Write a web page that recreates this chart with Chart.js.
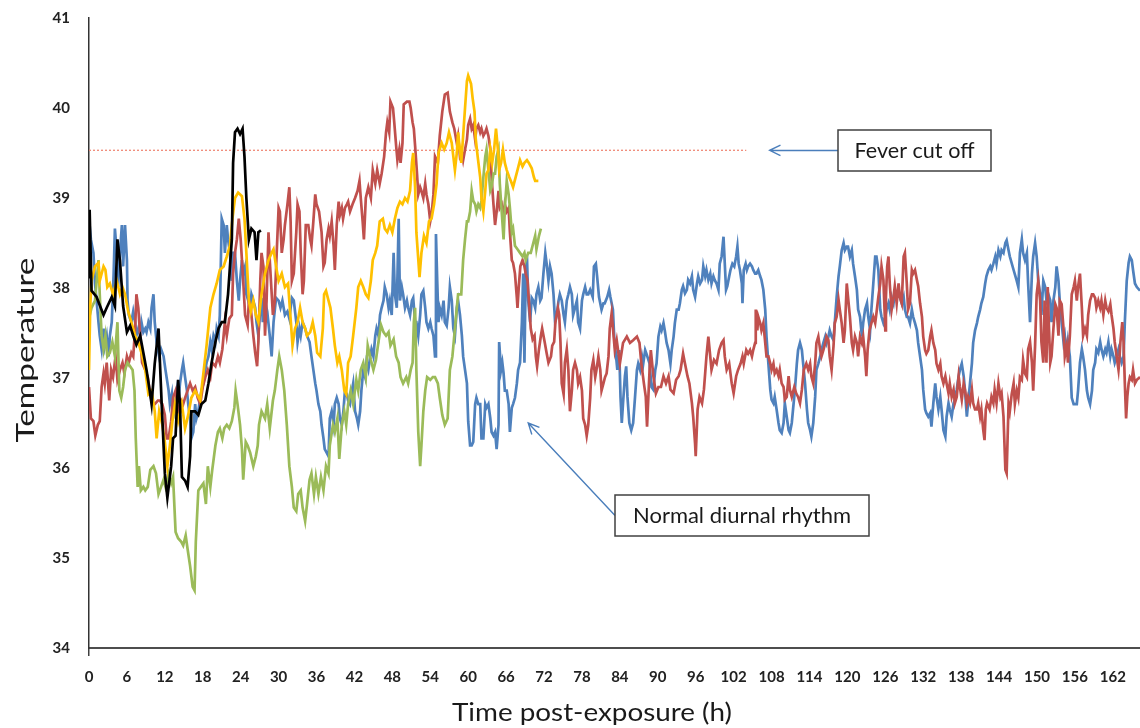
<!DOCTYPE html>
<html>
<head>
<meta charset="utf-8">
<title>Temperature post-exposure</title>
<script src="https://cdn.jsdelivr.net/npm/chart.js@4.4.1/dist/chart.umd.min.js"></script>
<style>
  html, body { margin: 0; padding: 0; background: #ffffff; }
  #wrap { width: 1140px; height: 728px; }
</style>
</head>
<body>
<div id="wrap"><canvas id="temps" width="1140" height="728"></canvas></div>
<script>
// readings: [hours post-exposure, temperature]
const blackData = [[0,38.12],[0.1,38.87],[0.4,37.97],[1.2,37.9],[2.3,37.7],[2.8,37.78],[3.6,37.9],[4.1,37.8],[4.5,38.54],[4.9,38.3],[5.4,37.8],[6.0,37.51],[6.5,37.58],[7.0,37.47],[7.5,37.37],[8.1,37.47],[8.6,37.28],[9.1,37.09],[9.6,36.86],[9.9,36.71],[10.4,37.16],[11.0,37.55],[11.5,36.71],[12.0,35.94],[12.4,35.67],[13.0,36.02],[13.3,36.33],[13.7,36.36],[14.1,36.98],[14.4,36.71],[14.7,35.9],[15.2,35.86],[15.6,35.79],[16.0,36.13],[16.2,36.63],[16.8,36.63],[17.3,36.59],[17.8,36.71],[18.4,36.75],[18.9,36.94],[19.4,37.17],[20.0,37.4],[20.5,37.55],[21.0,37.62],[21.5,37.62],[22.0,37.93],[22.6,38.54],[22.8,39.39],[23.1,39.73],[23.5,39.77],[23.9,39.71],[24.3,39.77],[24.6,39.46],[24.9,39.0],[25.3,38.54],[25.7,38.66],[26.2,38.62],[26.5,38.31],[26.8,38.62],[27.2,38.64]];

const yellowData = [[0,37.09],[0.2,37.8],[0.4,38.08],[0.95,38.24],[1.5,38.28],[1.7,38.08],[2.3,38.24],[2.6,38.2],[2.9,38.01],[3.3,38.05],[3.8,37.93],[4.4,38.08],[4.9,37.93],[5.3,38.01],[5.7,37.93],[6.2,37.74],[6.7,37.62],[7.3,37.47],[7.8,37.4],[8.3,37.28],[8.9,37.09],[9.4,36.82],[9.9,36.86],[10.4,36.63],[10.7,36.33],[11.1,36.63],[11.6,36.48],[12.0,36.29],[12.4,36.02],[12.8,36.25],[13.2,36.52],[13.6,36.71],[14.1,36.52],[14.7,36.71],[15.2,36.44],[15.7,36.59],[16.2,36.78],[16.8,36.86],[17.6,36.75],[18.1,37.05],[18.6,37.36],[19.2,37.78],[19.7,37.93],[20.2,38.05],[20.7,38.2],[21.3,38.24],[21.8,38.35],[22.3,38.47],[22.7,38.77],[23.1,39.0],[23.6,39.06],[24.2,39.02],[24.6,38.77],[24.9,38.39],[25.3,37.86],[25.6,37.74],[26.0,37.86],[26.4,37.7],[26.8,37.62],[27.3,37.93],[27.85,38.16],[28.4,38.31],[28.9,38.39],[29.2,38.43],[29.6,38.24],[30.0,38.08],[30.5,38.16],[31.0,38.01],[31.5,38.05],[31.9,37.66],[32.2,37.36],[32.6,37.55],[33.0,37.62],[33.4,37.78],[33.8,37.62],[34.2,37.55],[34.5,37.47],[35.0,37.51],[35.4,37.62],[35.8,37.47],[36.1,37.28],[36.6,37.24],[37.0,37.55],[37.2,37.93],[37.5,37.97],[37.9,37.86],[38.2,37.78],[38.6,37.55],[38.9,37.36],[39.3,37.17],[39.6,37.24],[40.0,37.09],[40.4,36.86],[40.7,36.82],[41.0,37.17],[41.4,37.24],[41.8,37.47],[42.3,37.78],[42.6,38.01],[43.0,38.08],[43.4,38.01],[43.8,37.93],[44.2,37.89],[44.6,38.08],[44.9,38.31],[45.3,38.39],[45.6,38.47],[46.0,38.74],[46.5,38.77],[46.8,38.66],[47.2,38.62],[47.6,38.7],[48.0,38.62],[48.4,38.77],[48.8,38.89],[49.2,38.96],[49.6,38.93],[50.0,39.0],[50.4,38.96],[50.8,39.08],[51.1,39.39],[51.3,39.5],[51.6,39.12],[51.8,38.62],[52.3,38.12],[52.6,38.39],[53.0,38.58],[53.4,38.5],[53.8,38.74],[54.2,38.77],[54.6,38.93],[55.0,39.16],[55.3,39.5],[55.8,39.61],[56.2,39.54],[56.6,39.61],[56.96,39.73],[57.4,39.61],[57.65,39.46],[57.9,39.31],[58.2,39.5],[58.4,39.73],[58.9,39.39],[59.2,39.69],[59.5,40.0],[59.8,40.3],[60.0,40.36],[60.45,40.27],[60.7,40.11],[61.0,39.96],[61.2,39.65],[61.5,39.46],[61.9,39.23],[62.1,39.0],[62.4,38.85],[62.7,39.08],[62.9,39.27],[63.2,39.31],[63.5,39.54],[63.8,39.39],[64.1,39.54],[64.4,39.77],[64.7,39.54],[64.9,39.31],[65.2,39.39],[65.5,39.54],[65.8,39.39],[66.1,39.31],[66.5,39.23],[66.8,39.18],[67.1,39.12],[67.5,39.23],[67.8,39.31],[68.2,39.42],[68.6,39.35],[68.9,39.39],[69.3,39.42],[69.6,39.39],[70.05,39.33],[70.4,39.23],[70.6,39.19],[71.1,39.19]];

const greenData = [[0,37.66],[0.4,37.78],[0.95,37.86],[1.5,38.31],[1.7,37.93],[2.0,37.47],[2.3,37.32],[2.6,37.47],[2.9,37.24],[3.3,37.28],[3.7,37.4],[4.1,37.24],[4.5,37.62],[4.8,36.86],[5.1,36.78],[5.4,36.9],[5.7,37.09],[6.1,37.17],[6.5,37.13],[6.9,37.09],[7.2,36.86],[7.4,36.33],[7.7,35.79],[7.9,36.02],[8.2,35.75],[8.6,35.79],[8.9,35.75],[9.3,35.79],[9.7,35.98],[10.2,36.02],[10.6,35.94],[11.0,35.71],[11.4,35.79],[11.8,35.87],[12.1,35.79],[12.6,35.94],[13.0,35.83],[13.3,35.9],[13.7,35.29],[14.1,35.22],[14.6,35.18],[14.9,35.14],[15.3,35.25],[15.6,35.1],[16.0,34.91],[16.4,34.68],[16.7,34.64],[16.9,35.18],[17.3,35.75],[17.7,35.79],[18.1,35.83],[18.5,35.6],[18.8,36.02],[19.2,35.79],[19.5,35.98],[20.0,36.25],[20.4,36.4],[20.7,36.44],[21.1,36.33],[21.4,36.44],[21.8,36.48],[22.2,36.44],[22.6,36.52],[23.0,36.67],[23.2,36.86],[23.5,36.71],[23.9,36.48],[24.2,36.21],[24.4,35.87],[24.8,36.29],[25.1,36.25],[25.5,36.17],[26.0,36.02],[26.4,36.13],[26.7,36.25],[26.9,36.48],[27.3,36.63],[27.85,36.55],[28.2,36.71],[28.6,36.44],[29.1,36.75],[29.4,36.86],[29.8,37.09],[30.1,37.24],[30.5,37.09],[30.9,36.86],[31.3,36.48],[31.7,36.02],[32.1,35.79],[32.4,35.56],[32.8,35.52],[33.1,35.71],[33.5,35.75],[33.8,35.56],[34.2,35.41],[34.5,35.6],[34.9,35.87],[35.2,35.94],[35.6,35.71],[35.9,35.9],[36.3,35.71],[36.7,35.9],[37.1,35.75],[37.5,36.02],[37.9,35.94],[38.1,36.25],[38.6,36.48],[38.9,36.4],[39.3,36.55],[39.6,36.1],[40.0,36.48],[40.4,36.63],[40.7,36.48],[41.0,36.71],[41.4,36.86],[41.8,36.71],[42.3,36.98],[42.6,36.86],[43.0,37.09],[43.4,37.17],[43.8,37.01],[44.1,37.36],[44.6,37.2],[45.0,37.09],[45.4,37.2],[45.8,37.4],[46.2,37.59],[46.6,37.51],[47.0,37.47],[47.4,37.51],[47.7,37.36],[48.2,37.43],[48.6,37.24],[49.0,37.17],[49.3,37.01],[49.7,36.94],[50.2,37.01],[50.5,36.94],[50.9,37.09],[51.2,37.17],[51.4,37.62],[51.6,37.78],[51.8,37.09],[52.1,36.4],[52.4,36.02],[52.6,36.25],[52.9,36.63],[53.2,36.86],[53.5,37.01],[54.0,36.98],[54.4,37.01],[54.75,37.01],[55.2,36.94],[55.5,36.78],[55.9,36.59],[56.3,36.48],[56.75,36.55],[57.1,37.09],[57.5,37.24],[57.8,37.47],[58.2,37.78],[58.4,37.93],[58.9,37.93],[59.2,38.31],[59.5,38.54],[59.8,38.74],[60.0,38.74],[60.3,38.85],[60.55,39.08],[60.8,38.97],[61.1,38.93],[61.3,38.85],[61.6,38.93],[61.9,38.89],[62.1,38.97],[62.4,39.23],[62.7,39.46],[62.9,39.54],[63.2,39.31],[63.5,39.08],[63.7,39.12],[64.0,39.27],[64.25,39.27],[64.5,39.46],[64.8,39.54],[65.0,39.16],[65.3,38.85],[65.6,38.54],[65.8,38.89],[66.1,39.19],[66.4,39.04],[66.6,38.89],[66.9,38.62],[67.1,38.66],[67.4,38.47],[67.8,38.43],[68.2,38.39],[68.6,38.35],[68.9,38.39],[69.1,38.31],[69.5,38.39],[69.9,38.39],[70.3,38.5],[70.6,38.58],[70.8,38.43],[71.2,38.58],[71.5,38.66]];

const redData = [[0,36.9],[0.3,36.55],[0.7,36.52],[1.0,36.36],[1.4,36.48],[1.7,36.52],[2.0,36.9],[2.3,37.05],[2.5,36.94],[2.8,37.17],[3.2,36.75],[3.5,37.09],[3.8,37.01],[4.2,37.24],[4.5,36.98],[4.9,37.09],[5.3,37.17],[5.6,37.05],[6.0,37.24],[6.3,37.17],[6.7,37.28],[7.0,37.24],[7.3,37.55],[7.5,37.93],[7.8,37.78],[8.1,37.47],[8.4,37.17],[8.9,37.09],[9.3,37.01],[9.6,36.86],[10.0,36.71],[10.4,36.71],[10.9,36.75],[11.2,36.75],[11.6,36.71],[12.0,36.59],[12.3,36.33],[12.6,36.33],[13.0,36.52],[13.3,36.78],[13.7,36.86],[14.1,36.63],[14.6,36.75],[14.9,36.71],[15.2,36.78],[15.6,36.86],[16.0,36.94],[16.4,36.86],[16.8,36.9],[17.2,36.78],[17.6,36.71],[18.0,36.9],[18.4,37.01],[18.8,37.09],[19.2,37.01],[19.5,37.17],[20.0,37.13],[20.4,37.24],[20.7,37.17],[21.1,37.32],[21.5,37.62],[21.8,37.47],[22.2,37.66],[22.6,37.7],[22.8,38.16],[23.1,38.39],[23.4,38.54],[23.7,38.77],[24.0,38.54],[24.4,38.08],[24.7,37.7],[25.1,37.59],[25.3,37.86],[25.6,37.78],[26.0,37.47],[26.3,37.28],[26.6,37.13],[26.8,37.4],[27.1,38.08],[27.3,38.39],[27.6,38.24],[27.85,37.47],[28.1,37.86],[28.4,38.62],[28.6,38.31],[29.1,37.7],[29.4,37.86],[29.7,38.39],[30.0,38.89],[30.2,38.85],[30.5,38.39],[30.8,38.54],[31.0,38.7],[31.4,38.93],[31.7,39.12],[31.9,38.74],[32.1,38.08],[32.4,38.16],[32.8,38.62],[33.0,38.93],[33.3,38.85],[33.5,38.39],[33.8,37.93],[34.0,38.08],[34.3,38.7],[34.7,38.7],[35.0,38.54],[35.2,38.47],[35.5,38.74],[35.8,39.04],[36.0,38.93],[36.4,38.85],[36.8,38.62],[37.1,38.24],[37.3,38.28],[37.6,38.54],[37.9,38.66],[38.1,38.58],[38.4,38.74],[38.7,38.47],[38.9,38.2],[39.2,38.7],[39.5,38.96],[39.7,38.81],[40.0,38.89],[40.2,38.77],[40.5,38.89],[40.8,38.93],[41.0,38.96],[41.3,38.85],[41.7,38.93],[42.1,39.0],[42.5,39.08],[42.8,39.19],[43.0,39.0],[43.3,38.74],[43.5,38.54],[43.8,39.0],[44.2,39.12],[44.6,39.0],[44.9,39.31],[45.3,39.16],[45.6,39.31],[46.0,39.16],[46.3,39.27],[46.7,39.46],[47.0,39.73],[47.2,39.84],[47.5,39.73],[47.7,40.07],[48.1,40.0],[48.3,39.84],[48.6,39.58],[48.8,39.42],[49.1,39.54],[49.3,39.39],[49.6,39.61],[49.8,40.04],[50.3,40.07],[50.7,40.07],[50.9,40.0],[51.2,39.84],[51.4,39.77],[51.6,39.58],[51.9,39.27],[52.1,39.04],[52.4,39.12],[52.6,39.08],[52.9,39.0],[53.2,39.16],[53.4,39.04],[53.7,38.93],[54.0,38.74],[54.2,38.81],[54.5,39.04],[54.75,39.46],[55.2,39.39],[55.5,39.69],[55.9,39.96],[56.3,40.15],[56.75,40.17],[57.1,39.96],[57.5,39.84],[57.8,39.77],[58.2,39.61],[58.4,39.69],[58.7,39.46],[59.0,39.5],[59.2,39.42],[59.5,39.54],[59.8,39.65],[60.0,39.81],[60.3,39.88],[60.55,39.77],[60.8,39.81],[61.1,39.65],[61.3,39.77],[61.6,39.81],[61.9,39.73],[62.1,39.77],[62.4,39.69],[62.7,39.73],[62.9,39.77],[63.2,39.69],[63.5,39.54],[63.7,39.23],[64.0,38.93],[64.25,38.7],[64.5,38.85],[64.8,39.08],[65.0,38.89],[65.3,38.93],[65.6,38.77],[65.8,38.93],[66.1,38.85],[66.4,38.89],[66.6,38.62],[66.9,38.31],[67.1,38.28],[67.4,38.16],[67.7,37.89],[67.8,37.78],[68.0,38.01],[68.25,38.24],[68.6,38.31],[68.9,38.24],[69.1,38.16],[69.4,38.08],[69.6,37.86],[69.9,37.55],[70.2,37.43],[70.5,37.47],[70.7,37.24],[70.9,37.13],[71.2,37.32],[71.5,37.47],[71.7,37.55],[72.1,37.4],[72.4,37.28],[72.7,37.17],[73.1,37.24],[73.3,37.36],[73.6,37.4],[73.8,37.62],[74.2,37.78],[74.4,37.7],[74.6,37.4],[74.8,36.94],[75.1,36.82],[75.3,37.17],[75.6,37.32],[75.85,37.09],[76.1,36.63],[76.4,36.86],[76.6,37.09],[76.9,37.17],[77.2,37.09],[77.4,36.94],[77.7,37.01],[78.0,36.86],[78.2,36.55],[78.5,36.48],[78.75,36.36],[79.0,36.48],[79.3,36.78],[79.5,37.09],[79.8,37.2],[80.1,37.01],[80.3,37.09],[80.6,37.24],[80.9,37.09],[81.1,36.86],[81.4,36.94],[81.65,37.01],[81.9,37.05],[82.2,37.24],[82.4,37.55],[82.7,37.72],[83.2,37.31],[83.5,37.42],[84.0,37.16],[84.5,37.39],[85.1,37.46],[85.6,37.39],[86.1,37.42],[86.7,37.46],[87.1,37.39],[87.4,37.16],[87.8,36.94],[88.1,36.79],[88.3,36.46],[88.7,37.09],[88.9,37.31],[89.3,37.02],[89.7,36.83],[90.1,36.9],[90.5,36.9],[90.9,37.02],[91.3,36.94],[91.7,37.02],[92.0,36.87],[92.5,36.83],[92.9,36.98],[93.3,37.02],[93.6,37.09],[94.0,37.27],[94.3,37.16],[94.7,37.02],[95.0,36.94],[95.4,36.72],[95.6,36.57],[95.9,36.27],[96.0,36.13],[96.3,36.65],[96.6,36.79],[97.0,36.72],[97.3,36.87],[97.7,37.24],[98.0,37.46],[98.3,37.24],[98.5,37.09],[98.9,37.2],[99.3,37.16],[99.7,37.31],[100.1,37.39],[100.4,37.42],[100.6,37.24],[100.9,37.09],[101.3,37.16],[101.7,36.94],[102.0,36.83],[102.4,37.02],[102.7,37.09],[103.1,37.16],[103.4,37.24],[103.6,37.16],[104.0,37.31],[104.3,37.27],[104.6,37.31],[104.9,37.24],[105.1,37.31],[105.4,37.39],[105.5,37.76],[105.75,37.53],[105.9,37.68],[106.2,37.61],[106.4,37.53],[106.7,37.61],[107.0,37.39],[107.2,37.24],[107.5,37.24],[107.8,37.16],[108.0,37.09],[108.3,37.16],[108.5,37.05],[108.8,37.09],[109.1,37.02],[109.3,37.09],[109.6,36.94],[109.9,36.9],[110.1,36.76],[110.4,36.79],[110.7,37.02],[110.9,36.87],[111.2,36.79],[111.6,36.9],[111.9,36.83],[112.2,36.79],[112.5,36.72],[112.8,36.87],[113.1,37.09],[113.5,37.16],[113.8,37.09],[114.1,37.16],[114.3,37.02],[114.6,36.94],[114.9,37.16],[115.1,37.39],[115.4,37.46],[115.7,37.31],[115.9,37.24],[116.2,37.31],[116.5,37.39],[116.7,37.46],[117.0,37.42],[117.2,37.24],[117.5,37.09],[117.8,37.35],[118.0,37.61],[118.3,37.68],[118.6,37.87],[118.8,37.76],[119.1,37.61],[119.4,37.39],[119.6,37.53],[119.9,38.05],[120.1,37.9],[120.4,37.68],[120.7,37.39],[120.9,37.31],[121.2,37.46],[121.5,37.39],[121.7,37.24],[122.0,37.46],[122.3,37.39],[122.5,37.46],[122.8,37.24],[123.0,37.02],[123.2,37.31],[123.5,37.53],[123.8,37.61],[124.1,37.68],[124.4,37.61],[124.6,37.72],[124.9,37.9],[125.2,38.05],[125.4,38.24],[125.7,38.09],[126.0,37.53],[126.1,37.9],[126.3,38.24],[126.5,38.35],[126.7,38.05],[127.0,37.76],[127.3,37.9],[127.5,38.02],[127.8,37.83],[128.1,38.05],[128.3,37.9],[128.6,37.83],[128.9,38.35],[129.1,38.39],[129.4,38.05],[129.6,37.76],[129.9,37.83],[130.2,38.2],[130.4,38.16],[130.7,38.2],[131.0,38.09],[131.2,38.02],[131.5,37.83],[131.8,37.68],[132.0,37.46],[132.3,37.31],[132.5,37.27],[132.8,37.31],[133.1,37.46],[133.3,37.53],[133.6,37.39],[133.9,37.31],[134.1,37.16],[134.4,37.09],[134.7,37.16],[134.9,37.02],[135.2,36.94],[135.5,37.02],[135.7,36.94],[136.0,36.83],[136.2,36.94],[136.5,36.79],[136.8,36.87],[137.0,36.72],[137.3,36.79],[137.6,37.02],[137.8,36.9],[138.1,36.76],[138.4,36.94],[138.6,36.87],[138.9,36.72],[139.1,36.79],[139.4,36.72],[139.7,36.87],[139.9,36.72],[140.2,36.65],[140.5,36.65],[140.7,36.72],[141.0,36.57],[141.2,36.65],[141.5,36.42],[141.7,36.31],[141.9,36.65],[142.1,36.72],[142.5,36.65],[142.8,36.79],[143.1,36.72],[143.3,36.87],[143.6,36.72],[143.9,36.94],[144.2,36.79],[144.4,36.83],[144.7,36.57],[145.0,35.98],[145.2,35.94],[145.5,36.71],[145.7,36.63],[146.0,36.82],[146.3,36.94],[146.5,36.71],[146.8,36.86],[147.05,36.78],[147.3,37.01],[147.6,36.98],[147.8,37.2],[148.1,37.05],[148.4,37.01],[148.6,37.32],[148.9,37.4],[149.2,37.17],[149.4,36.86],[149.7,37.36],[149.95,37.93],[150.2,38.08],[150.5,37.86],[150.7,37.4],[151.0,37.17],[151.2,37.86],[151.3,37.47],[151.5,37.17],[151.7,38.01],[151.9,37.55],[152.1,37.17],[152.3,37.24],[152.6,37.55],[152.9,37.82],[153.1,37.78],[153.4,37.47],[153.6,37.86],[153.9,37.82],[154.2,37.55],[154.4,37.24],[154.7,37.36],[154.9,37.17],[155.2,37.47],[155.5,37.93],[155.8,38.01],[156.0,38.08],[156.3,37.86],[156.5,38.01],[156.8,38.16],[157.1,37.78],[157.3,37.47],[157.6,37.55],[157.9,37.47],[158.1,37.7],[158.4,37.86],[158.7,37.93],[158.9,37.93],[159.2,37.89],[159.4,37.78],[159.7,37.86],[160.0,37.78],[160.2,37.86],[160.5,37.7],[160.8,37.86],[161.0,37.78],[161.3,37.74],[161.6,37.82],[161.8,37.7],[162.1,37.55],[162.3,37.4],[162.6,37.24],[162.9,37.09],[163.0,37.17],[163.2,37.4],[163.5,37.62],[163.7,37.4],[163.9,36.94],[164.1,36.55],[164.3,36.8],[164.5,36.94],[164.7,37.01],[165.0,36.98],[165.2,37.09],[165.5,36.94],[165.8,36.98],[166.3,37.01]];

const blueData = [[0,38.77],[0.3,38.54],[0.7,38.39],[0.95,38.05],[1.2,37.86],[1.5,37.62],[1.7,37.47],[2.0,37.32],[2.3,37.55],[2.5,37.36],[2.8,37.47],[3.1,37.24],[3.3,37.47],[3.6,37.62],[3.9,38.16],[4.1,38.66],[4.4,38.39],[4.6,38.01],[4.9,38.39],[5.2,38.7],[5.4,38.24],[5.7,38.7],[6.0,38.31],[6.1,37.86],[6.3,37.7],[6.7,37.62],[7.0,37.74],[7.3,37.62],[7.5,37.47],[7.8,37.55],[8.1,37.47],[8.3,37.62],[8.6,37.51],[8.9,37.55],[9.1,37.51],[9.4,37.62],[9.7,37.55],[9.9,37.78],[10.2,37.93],[10.4,37.62],[10.7,37.4],[11.1,37.24],[11.4,37.32],[11.8,37.24],[12.1,37.09],[12.6,36.86],[12.8,36.71],[13.1,36.82],[13.3,36.55],[13.6,36.71],[13.9,36.86],[14.1,36.71],[14.4,36.94],[14.7,37.09],[14.9,37.17],[15.2,37.01],[15.5,36.86],[15.7,36.71],[16.0,36.55],[16.2,36.33],[16.5,36.4],[16.8,36.71],[17.0,36.55],[17.3,36.63],[17.6,36.78],[17.8,36.86],[18.1,36.94],[18.4,37.09],[18.6,37.17],[18.9,37.24],[19.2,37.4],[19.4,37.32],[19.7,37.47],[20.0,37.4],[20.2,37.55],[20.5,37.47],[20.7,37.7],[21.0,38.77],[21.3,38.7],[21.5,38.39],[21.8,38.7],[22.0,38.54],[22.3,38.39],[22.6,38.08],[22.8,38.39],[23.1,38.39],[23.4,38.08],[23.7,37.86],[23.9,38.08],[24.2,38.31],[24.4,38.16],[24.7,38.24],[24.9,37.93],[25.2,37.86],[25.5,37.78],[25.7,37.93],[26.0,37.86],[26.3,37.78],[26.5,37.62],[26.8,37.47],[27.1,37.78],[27.3,37.89],[27.5,37.62],[27.85,37.86],[28.2,37.74],[28.6,37.47],[28.9,37.24],[29.2,37.62],[29.6,37.89],[30.0,37.86],[30.3,37.78],[30.6,37.86],[31.0,37.7],[31.4,37.74],[31.7,37.66],[32.1,37.89],[32.4,37.86],[32.8,37.62],[33.0,37.4],[33.3,37.55],[33.5,37.47],[33.8,37.62],[34.2,37.55],[34.5,37.47],[34.9,37.4],[35.2,37.24],[35.5,37.09],[35.8,36.94],[36.0,36.86],[36.3,36.71],[36.6,36.63],[36.8,36.48],[37.1,36.33],[37.3,36.21],[37.6,36.17],[37.9,36.13],[38.1,36.55],[38.4,36.63],[38.7,36.48],[38.9,36.71],[39.2,36.78],[39.5,36.71],[39.7,36.55],[40.0,36.48],[40.25,36.63],[40.5,36.86],[40.8,36.82],[41.0,36.75],[41.3,36.71],[41.6,36.86],[41.8,36.94],[42.1,36.63],[42.4,36.55],[42.6,36.48],[42.9,36.63],[43.1,36.86],[43.4,37.09],[43.7,37.01],[43.9,37.17],[44.2,37.09],[44.5,37.24],[44.7,37.32],[45.0,37.24],[45.3,37.47],[45.5,37.55],[45.8,37.47],[46.05,37.7],[46.3,37.78],[46.6,37.86],[46.8,38.01],[47.1,37.93],[47.4,37.78],[47.6,37.86],[47.9,37.7],[48.2,38.39],[48.4,37.93],[48.7,37.78],[49.0,38.77],[49.2,37.86],[49.5,38.01],[49.7,37.93],[50.0,37.78],[50.3,37.86],[50.5,37.78],[50.8,37.7],[51.1,37.86],[51.3,37.89],[51.6,37.62],[51.8,37.62],[52.1,37.47],[52.4,37.7],[52.6,37.93],[52.9,37.97],[53.2,37.78],[53.4,37.62],[53.7,37.55],[54.0,37.62],[54.2,37.55],[54.5,37.47],[54.75,37.24],[54.9,38.6],[55.1,38.08],[55.3,37.62],[55.5,37.78],[55.8,37.7],[56.1,37.86],[56.3,37.62],[56.6,37.58],[56.9,37.78],[57.1,38.01],[57.4,37.86],[57.65,37.55],[57.9,37.47],[58.2,37.78],[58.4,37.86],[58.7,37.7],[59.0,37.47],[59.2,37.24],[59.5,37.09],[59.8,36.94],[60.0,36.52],[60.3,36.25],[60.55,36.25],[60.8,36.29],[61.1,36.71],[61.3,36.78],[61.6,36.71],[61.9,36.71],[62.1,36.33],[62.4,36.33],[62.7,36.71],[62.9,36.67],[63.2,36.71],[63.5,36.55],[63.7,36.4],[64.0,36.36],[64.25,36.4],[64.5,36.21],[64.8,36.48],[64.9,37.4],[65.2,37.09],[65.4,37.17],[65.6,37.05],[65.8,36.86],[66.1,36.86],[66.4,36.71],[66.6,36.4],[66.9,36.67],[67.1,36.71],[67.4,36.78],[67.7,36.94],[67.9,37.09],[68.2,37.17],[68.5,37.62],[68.7,38.16],[68.9,37.17],[69.1,38.16],[69.3,38.35],[69.5,37.86],[69.8,37.62],[70.05,37.89],[70.3,37.86],[70.6,37.78],[70.8,37.93],[71.1,38.01],[71.4,37.86],[71.6,37.89],[71.9,38.16],[72.2,38.39],[72.4,38.28],[72.7,38.08],[72.95,38.24],[73.2,38.16],[73.5,37.93],[73.75,37.62],[74.0,37.7],[74.3,37.86],[74.5,37.93],[74.8,37.86],[75.1,37.7],[75.3,37.62],[75.6,37.86],[75.85,37.93],[76.1,38.01],[76.4,37.93],[76.6,37.7],[76.9,37.78],[77.2,37.86],[77.4,37.62],[77.7,37.55],[78.0,37.86],[78.2,37.93],[78.5,38.01],[78.75,37.93],[79.0,37.93],[79.3,37.98],[79.7,37.9],[79.9,38.24],[80.2,38.27],[80.4,38.13],[80.7,37.9],[81.1,37.76],[81.4,37.83],[81.6,37.83],[82.0,37.9],[82.3,37.98],[82.5,37.9],[82.9,37.76],[83.1,37.46],[83.4,37.24],[83.6,37.09],[83.9,37.31],[84.1,36.79],[84.3,36.5],[84.5,36.72],[84.8,37.02],[85.0,37.13],[85.2,36.79],[85.5,36.5],[85.8,36.42],[86.1,36.5],[86.4,36.79],[86.7,37.09],[86.9,37.16],[87.2,37.09],[87.5,37.24],[87.7,37.16],[88.0,37.31],[88.2,37.27],[88.7,37.16],[89.0,36.9],[89.3,36.87],[89.6,37.09],[89.8,37.16],[90.1,37.46],[90.4,37.57],[90.6,37.53],[90.9,37.61],[91.1,37.53],[91.4,37.39],[91.7,37.31],[92.0,37.16],[92.2,37.31],[92.5,37.46],[92.7,37.61],[93.0,37.76],[93.3,37.76],[93.5,37.83],[93.8,37.98],[94.0,38.02],[94.3,37.94],[94.6,37.98],[94.8,38.09],[95.1,38.05],[95.4,38.13],[95.6,37.98],[95.9,37.9],[96.2,38.05],[96.4,38.13],[96.7,38.05],[97.0,38.09],[97.2,38.24],[97.5,38.13],[97.7,38.2],[98.0,38.09],[98.3,38.16],[98.5,38.05],[98.8,38.13],[99.0,38.09],[99.3,38.05],[99.6,37.98],[99.8,38.27],[100.1,38.35],[100.4,38.57],[100.6,38.27],[100.8,37.98],[101.0,38.02],[101.3,38.13],[101.5,38.2],[101.8,38.27],[102.1,38.24],[102.4,38.35],[102.6,38.46],[102.8,38.27],[103.0,38.2],[103.3,38.05],[103.4,37.83],[103.6,38.2],[103.9,38.27],[104.1,38.2],[104.3,38.24],[104.6,38.27],[104.9,38.24],[105.1,38.2],[105.4,38.16],[105.6,38.16],[105.9,38.2],[106.2,38.13],[106.4,38.09],[106.7,37.98],[107.0,37.76],[107.2,37.46],[107.5,37.16],[107.8,36.87],[108.0,36.76],[108.3,36.72],[108.5,36.79],[108.8,36.65],[109.1,36.5],[109.3,36.42],[109.6,36.39],[109.9,36.5],[110.1,36.72],[110.4,36.57],[110.7,36.42],[110.9,36.39],[111.2,36.5],[111.4,36.65],[111.7,36.87],[112.0,37.16],[112.2,37.31],[112.5,37.39],[112.8,37.31],[113.0,37.16],[113.3,36.94],[113.6,36.65],[113.8,36.5],[114.1,36.42],[114.3,36.35],[114.6,36.5],[114.9,36.79],[115.1,37.09],[115.4,37.16],[115.7,37.24],[115.9,37.31],[116.2,37.39],[116.5,37.46],[116.7,37.39],[117.0,37.46],[117.2,37.53],[117.5,37.46],[117.8,37.42],[118.0,37.61],[118.3,37.9],[118.6,38.13],[118.8,38.24],[119.1,38.42],[119.4,38.5],[119.6,38.42],[119.9,38.46],[120.1,38.46],[120.4,38.35],[120.7,38.42],[120.9,38.27],[121.2,38.13],[121.5,37.98],[121.7,37.76],[122.0,37.68],[122.3,37.46],[122.5,37.61],[122.8,37.76],[123.1,37.83],[123.3,37.68],[123.6,37.53],[123.8,37.76],[124.1,38.05],[124.4,38.35],[124.6,38.35],[124.9,38.2],[125.2,37.76],[125.4,37.68],[125.7,37.61],[126.0,37.68],[126.2,37.76],[126.5,37.83],[126.7,37.76],[127.0,37.9],[127.3,37.83],[127.5,37.94],[127.8,37.9],[128.1,37.98],[128.3,37.9],[128.6,37.83],[128.9,37.9],[129.1,37.76],[129.4,37.68],[129.6,37.68],[129.9,37.61],[130.2,37.76],[130.4,37.68],[130.7,37.61],[131.0,37.53],[131.2,37.39],[131.5,37.24],[131.8,37.09],[132.0,36.87],[132.3,36.65],[132.5,36.61],[132.8,36.57],[133.1,36.61],[133.3,36.46],[133.6,36.72],[133.9,36.94],[134.1,36.79],[134.4,36.65],[134.7,36.79],[134.9,36.65],[135.2,36.42],[135.5,36.35],[135.7,36.57],[136.0,36.72],[136.2,36.65],[136.5,36.57],[136.8,36.72],[137.0,36.76],[137.3,36.87],[137.6,37.02],[137.8,37.09],[138.1,37.16],[138.4,37.02],[138.6,36.87],[138.9,36.57],[139.1,36.72],[139.4,36.94],[139.7,37.16],[139.9,37.39],[140.2,37.53],[140.5,37.61],[140.7,37.68],[141.0,37.76],[141.2,37.83],[141.5,37.9],[141.8,38.05],[142.0,38.13],[142.3,38.2],[142.6,38.24],[142.8,38.2],[143.1,38.27],[143.4,38.35],[143.6,38.27],[143.9,38.42],[144.2,38.35],[144.4,38.42],[144.7,38.39],[145.0,38.5],[145.2,38.53],[145.5,38.42],[145.7,38.35],[146.3,38.2],[146.8,38.08],[147.05,38.01],[147.3,38.39],[147.6,38.54],[147.8,38.39],[148.1,38.31],[148.4,38.39],[148.6,38.05],[148.9,37.62],[149.2,38.16],[149.4,38.35],[149.7,38.5],[149.95,38.35],[150.2,38.08],[150.5,37.93],[150.7,37.7],[151.0,38.08],[151.3,38.01],[151.5,37.86],[151.8,37.93],[152.1,37.86],[152.3,37.62],[152.6,37.86],[152.9,38.01],[153.1,38.24],[153.4,38.08],[153.6,37.86],[153.9,37.62],[154.2,37.4],[154.4,37.47],[154.7,37.24],[154.9,37.4],[155.2,37.24],[155.5,36.78],[155.8,36.71],[156.0,36.71],[156.3,36.71],[156.5,36.86],[156.8,37.17],[157.1,37.32],[157.3,37.24],[157.6,37.09],[157.9,36.86],[158.1,36.78],[158.4,36.71],[158.7,36.86],[158.9,37.09],[159.2,37.17],[159.4,37.32],[159.7,37.28],[160.0,37.4],[160.2,37.32],[160.5,37.24],[160.8,37.32],[161.0,37.28],[161.3,37.4],[161.6,37.24],[161.8,37.32],[162.1,37.24],[162.3,37.17],[162.6,37.24],[162.9,37.32],[163.1,37.24],[163.4,37.17],[163.7,37.24],[163.9,37.62],[164.2,38.08],[164.5,38.28],[164.7,38.35],[165.0,38.31],[165.2,38.2],[165.5,38.05],[165.8,38.01],[166.3,37.97]];

// fever threshold and how far the dotted line runs
const feverCutOff = 39.53;
const feverLine = [0, 104];

// axis ranges and the hour labels along the bottom
const xRange = [0, 166.3];
const xTickHours = [0, 6, 12, 18, 24, 30, 36, 42, 48, 54, 60, 66, 72, 78, 84, 90, 96, 102, 108, 114, 120, 126, 132, 138, 144, 150, 156, 162];
const yRange = [34, 41];

// call-outs: text, box (px), where the arrow points (data units)
const callouts = [
    { text: "Fever cut off", box: [838, 130, 153, 41], textWidth: 120, tip: [107.7, 39.53] },
    { text: "Normal diurnal rhythm", box: [615, 495, 254, 41], textWidth: 218, tip: [69.5, 36.5] }
];

function toPoints(pairs) {
    return pairs.map(p => ({ x: p[0], y: p[1] }));
}

// draw text centred at cx, cy, squeezed or stretched to a given width
function fitText(ctx, text, cx, cy, width, size, rotate) {
    ctx.save();
    ctx.font = size + "px Lato";
    var w = ctx.measureText(text).width;
    ctx.translate(cx, cy);
    if (rotate) ctx.rotate(-Math.PI / 2);
    ctx.scale(width / w, 1);
    ctx.textAlign = "center";
    ctx.textBaseline = "middle";
    ctx.fillStyle = "#1a1a1a";
    ctx.fillText(text, 0, 0);
    ctx.restore();
}

// axis titles and the two boxed notes with arrows
const notesPlugin = {
    id: "notes",
    afterDraw(chart) {
        const ctx = chart.ctx;
        const xs = chart.scales.x;
        const ys = chart.scales.y;

        fitText(ctx, "Time post-exposure (h)", 592, 713, 280, 25, false);
        fitText(ctx, "Temperature", 26, 350, 185, 25, true);

        for (const c of callouts) {
            var bx = c.box[0], by = c.box[1], bw = c.box[2], bh = c.box[3];
            var sx = bx, sy = by + bh / 2;
            var tx = xs.getPixelForValue(c.tip[0]);
            var ty = ys.getPixelForValue(c.tip[1]);

            // arrow line + open head
            ctx.save();
            ctx.strokeStyle = "#4a7ebb";
            ctx.lineWidth = 1.4;
            ctx.beginPath();
            ctx.moveTo(sx, sy);
            ctx.lineTo(tx, ty);
            var ang = Math.atan2(sy - ty, sx - tx);
            ctx.moveTo(tx + 12 * Math.cos(ang - 0.45), ty + 12 * Math.sin(ang - 0.45));
            ctx.lineTo(tx, ty);
            ctx.lineTo(tx + 12 * Math.cos(ang + 0.45), ty + 12 * Math.sin(ang + 0.45));
            ctx.stroke();
            ctx.restore();

            // box
            ctx.save();
            ctx.fillStyle = "#ffffff";
            ctx.fillRect(bx, by, bw, bh);
            ctx.strokeStyle = "#404040";
            ctx.lineWidth = 1.5;
            ctx.strokeRect(bx, by, bw, bh);
            ctx.restore();

            fitText(ctx, c.text, bx + bw / 2, by + bh / 2 + 1, c.textWidth, 21, false);
        }
    }
};

Chart.defaults.font.family = "Lato";

const canvas = document.getElementById("temps");

new Chart(canvas, {
    type: "line",
    data: {
        datasets: [
            { label: "black", data: toPoints(blackData), borderColor: "#000000" },
            { label: "yellow", data: toPoints(yellowData), borderColor: "#ffc000" },
            { label: "green", data: toPoints(greenData), borderColor: "#9bbb59" },
            { label: "red", data: toPoints(redData), borderColor: "#c0504d" },
            { label: "blue", data: toPoints(blueData), borderColor: "#4f81bd" },
            {
                label: "fever cut off",
                data: [{ x: feverLine[0], y: feverCutOff }, { x: feverLine[1], y: feverCutOff }],
                borderColor: "#f08a78",
                borderWidth: 1.3,
                borderDash: [2, 2]
            }
        ]
    },
    options: {
        responsive: false,
        animation: false,
        layout: { padding: { top: 18, right: 0, bottom: 0, left: 0 } },
        elements: {
            point: { radius: 0 },
            line: { tension: 0, borderWidth: 2.7, fill: false }
        },
        plugins: {
            legend: { display: false },
            tooltip: { enabled: false }
        },
        scales: {
            x: {
                type: "linear",
                min: xRange[0],
                max: xRange[1],
                // use the hour list as the ticks (every 6 h)
                afterBuildTicks: (scale) => {
                    scale.ticks = xTickHours.map(h => ({ value: h }));
                },
                afterFit: (scale) => { scale.height = 80; },
                ticks: {
                    autoSkip: false,
                    maxRotation: 0,
                    padding: 12,
                    color: "#222222",
                    font: { size: 15, weight: "bold" }
                },
                grid: {
                    display: true,
                    drawOnChartArea: false,
                    drawTicks: true,
                    tickLength: 8,
                    lineWidth: 1.5,
                    color: (c) => (c.tick && c.tick.value === 0 ? "#404040" : "rgba(0,0,0,0)")
                },
                border: { display: true, color: "#4d4d4d", width: 2 }
            },
            y: {
                min: yRange[0],
                max: yRange[1],
                // fixed width, and no extra room above the top label
                afterFit: (scale) => {
                    scale.width = 89;
                    scale.paddingTop = 0;
                    scale.paddingBottom = 0;
                },
                ticks: {
                    stepSize: 1,
                    padding: 19,
                    color: "#222222",
                    font: { size: 15, weight: "bold" }
                },
                grid: { display: false, drawTicks: false },
                border: { display: true, color: "#333333", width: 1.5 }
            }
        }
    },
    plugins: [notesPlugin]
});
</script>
</body>
</html>
